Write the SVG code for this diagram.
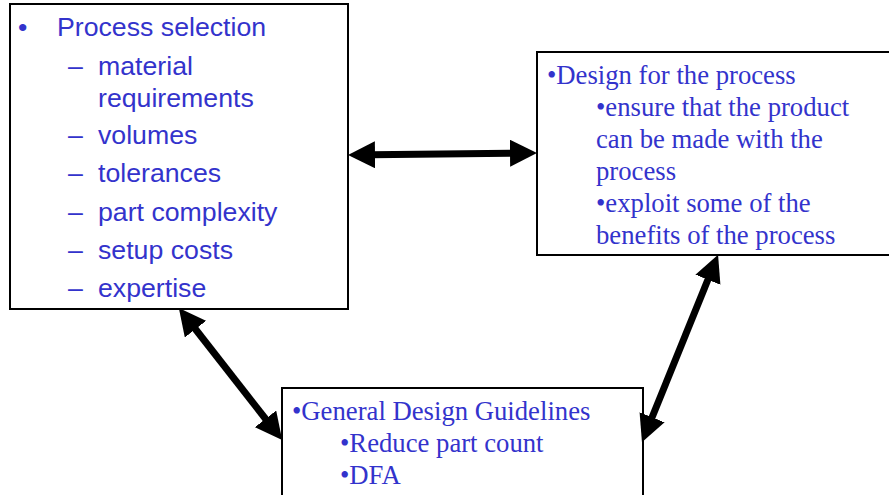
<svg xmlns="http://www.w3.org/2000/svg" width="889" height="495" viewBox="0 0 889 495">
<style>
.box{fill:#fff;stroke:#000;stroke-width:2}
.sans{font-family:"Liberation Sans",Arial,sans-serif;font-size:26.7px;fill:#3333CC}
.serif{font-family:"Liberation Serif","Times New Roman",serif;font-size:26.7px;fill:#3333CC}
.conn{stroke:#000;stroke-width:7;fill:none;marker-start:url(#ah);marker-end:url(#ah)}
</style>
<defs>
<marker id="ah" markerUnits="userSpaceOnUse" markerWidth="27" markerHeight="27" refX="4" refY="13.5" orient="auto-start-reverse" viewBox="0 0 27 27">
<path d="M0,0 L27,13.5 L0,27 z" fill="#000"/>
</marker>
</defs>
<rect width="889" height="495" fill="#fff"/>
<g id="process-selection">
<rect class="box" x="10" y="4" width="338" height="305"/>
<text class="sans" x="18" y="36">•</text>
<text class="sans" x="57" y="36">Process selection</text>
<text class="sans" x="68" y="75">–</text><text class="sans" x="98" y="75">material</text>
<text class="sans" x="98" y="107">requirements</text>
<text class="sans" x="68" y="144">–</text><text class="sans" x="98" y="144">volumes</text>
<text class="sans" x="68" y="182">–</text><text class="sans" x="98" y="182">tolerances</text>
<text class="sans" x="68" y="221">–</text><text class="sans" x="98" y="221">part complexity</text>
<text class="sans" x="68" y="259">–</text><text class="sans" x="98" y="259">setup costs</text>
<text class="sans" x="68" y="297">–</text><text class="sans" x="98" y="297">expertise</text>
</g>
<g id="design-for-process">
<rect class="box" x="537" y="52" width="360" height="203"/>
<text class="serif" x="547" y="84">•Design for the process</text>
<text class="serif" x="596" y="116">•ensure that the product</text>
<text class="serif" x="596" y="148">can be made with the</text>
<text class="serif" x="596" y="180">process</text>
<text class="serif" x="596" y="212">•exploit some of the</text>
<text class="serif" x="596" y="244">benefits of the process</text>
</g>
<g id="general-guidelines">
<rect class="box" x="282" y="388" width="361" height="120"/>
<text class="serif" x="292" y="420">•General Design Guidelines</text>
<text class="serif" x="340" y="452">•Reduce part count</text>
<text class="serif" x="340" y="484">•DFA</text>
</g>
<g id="connectors">
<line class="conn" x1="371" y1="154.8" x2="514" y2="153.2"/>
<line class="conn" x1="193" y1="326" x2="268" y2="422"/>
<line class="conn" x1="709.4" y1="276" x2="650.6" y2="421"/>
</g>
</svg>
